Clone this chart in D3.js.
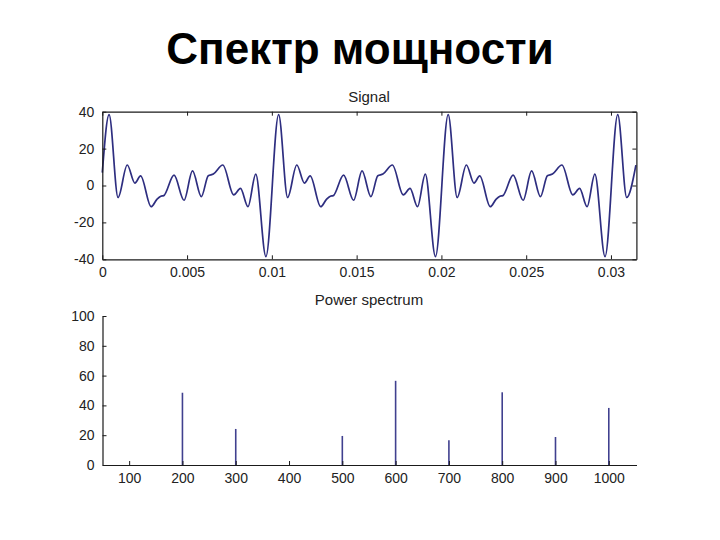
<!DOCTYPE html>
<html><head><meta charset="utf-8">
<script src="https://cdn.jsdelivr.net/npm/d3@7"></script>
<style>body{margin:0;background:#fff}svg{display:block}text{font-family:"Liberation Sans",Arial,sans-serif}</style>
</head><body><svg id="c" width="720" height="540"></svg>
<script>
// ---- data ----
const mainTitle = "Спектр мощности";
const signalTitle = "Signal";
const spectrumTitle = "Power spectrum";

const signalTime = [
  0, 0.0004, 0.00093, 0.00147, 0.00192, 0.00226, 0.00288, 0.00322, 0.00345, 0.00362, 0.00423,
  0.00482, 0.00532, 0.00584, 0.00625, 0.00655, 0.00711, 0.00775, 0.00815, 0.00859, 0.00905, 0.00965,
  0.0104, 0.01093, 0.01147, 0.01192, 0.01226, 0.01288, 0.01322, 0.01345, 0.01362, 0.01423,
  0.01482, 0.01532, 0.01584, 0.01625, 0.01655, 0.01711, 0.01775, 0.01815, 0.01859, 0.01905, 0.01965,
  0.0204, 0.02093, 0.02147, 0.02192, 0.02226, 0.02288, 0.02322, 0.02345, 0.02362, 0.02423,
  0.02482, 0.02532, 0.02584, 0.02625, 0.02655, 0.02711, 0.02775, 0.02815, 0.02859, 0.02905, 0.02965,
  0.0304, 0.03093, 0.03147
];
const signalValue = [
  7, 38.4, -6.5, 11.1, 1.3, 5.2, -11.5, -7.5, -5.8, -5.5, 5.6,
  -8.0, 7.9, -6.0, 5.3, 6.2, 11.1, -5.1, -1.6, -11.5, 6.2, -38.5,
  38.4, -6.5, 11.1, 1.3, 5.2, -11.5, -7.5, -5.8, -5.5, 5.6,
  -8.0, 7.9, -6.0, 5.3, 6.2, 11.1, -5.1, -1.6, -11.5, 6.2, -38.5,
  38.4, -6.5, 11.1, 1.3, 5.2, -11.5, -7.5, -5.8, -5.5, 5.6,
  -8.0, 7.9, -6.0, 5.3, 6.2, 11.1, -5.1, -1.6, -11.5, 6.2, -38.5,
  38.4, -6.5, 11.0
];
const signalXTicks = [0, 0.005, 0.01, 0.015, 0.02, 0.025, 0.03];
const signalXTickLabels = ["0", "0.005", "0.01", "0.015", "0.02", "0.025", "0.03"];
const signalYTicks = [-40, -20, 0, 20, 40];

const frequencies = [100, 200, 300, 400, 500, 600, 700, 800, 900, 1000];
const power = [0, 48.5, 24.2, 0, 19.5, 56.5, 16.6, 48.8, 18.8, 38.3];
const spectrumYTicks = [0, 20, 40, 60, 80, 100];

// ---- drawing ----
const svg = d3.select("#c");
const lineColor = "#2e2e80";
const axisColor = "#1a1a1a";
const tickFont = 14;
const plain = d => String(d);

svg.append("text").attr("x", 360).attr("y", 64).attr("text-anchor", "middle")
  .attr("font-size", 44).attr("font-weight", "bold").attr("fill", "#000").text(mainTitle);

// Signal panel
const x1 = d3.scaleLinear().domain([0, 0.0315]).range([102.3, 636.4]);
const y1 = d3.scaleLinear().domain([-40, 40]).range([259.3, 111.7]);
const g1 = svg.append("g");

g1.append("path")
  .datum(signalTime.map((t, i) => [t, signalValue[i]]))
  .attr("fill", "none").attr("stroke", lineColor).attr("stroke-width", 1.7)
  .attr("d", d3.line().x(d => x1(d[0])).y(d => y1(d[1])).curve(d3.curveMonotoneX));

function styleAxis(g) {
  g.selectAll(".domain").attr("stroke", axisColor).attr("stroke-width", 1.2);
  g.selectAll(".tick line").attr("stroke", axisColor);
  g.selectAll(".tick text").attr("fill", "#222").attr("font-size", tickFont)
    .attr("font-family", '"Liberation Sans",Arial,sans-serif');
}
const fmt1 = d => signalXTickLabels[signalXTicks.indexOf(d)];
g1.append("g").attr("transform", `translate(0,${y1(-40)})`)
  .call(d3.axisBottom(x1).tickValues(signalXTicks).tickFormat(fmt1).tickSizeInner(-4).tickSizeOuter(0).tickPadding(8))
  .call(styleAxis);
g1.append("g").attr("transform", `translate(0,${y1(40)})`)
  .call(d3.axisTop(x1).tickValues(signalXTicks).tickFormat("").tickSizeInner(-4).tickSizeOuter(0))
  .call(styleAxis);
g1.append("g").attr("transform", `translate(${x1(0)},0)`)
  .call(d3.axisLeft(y1).tickValues(signalYTicks).tickFormat(plain).tickSizeInner(-4).tickSizeOuter(0).tickPadding(8))
  .call(styleAxis);
g1.append("g").attr("transform", `translate(${x1(0.0315)},0)`)
  .call(d3.axisRight(y1).tickValues(signalYTicks).tickFormat("").tickSizeInner(-4).tickSizeOuter(0))
  .call(styleAxis);
g1.append("text").attr("x", 369).attr("y", 102).attr("text-anchor", "middle")
  .attr("font-size", 15).attr("fill", "#222").text(signalTitle);

// Spectrum panel
const x2 = d3.scaleLinear().domain([50, 1052]).range([102.5, 636.5]);
const y2 = d3.scaleLinear().domain([0, 100]).range([465, 316]);
const g2 = svg.append("g");
g2.selectAll("line.stem").data(frequencies).join("line").attr("class", "stem")
  .attr("x1", d => x2(d)).attr("x2", d => x2(d))
  .attr("y1", y2(0)).attr("y2", (d, i) => y2(power[i]))
  .attr("stroke", "#40408f").attr("stroke-width", 1.6);
g2.append("g").attr("transform", `translate(0,${y2(0)})`)
  .call(d3.axisBottom(x2).tickValues(frequencies).tickFormat(plain).tickSizeInner(-4).tickSizeOuter(0).tickPadding(8))
  .call(styleAxis);
g2.append("g").attr("transform", `translate(${x2(50)},0)`)
  .call(d3.axisLeft(y2).tickValues(spectrumYTicks).tickFormat(plain).tickSizeInner(-4).tickSizeOuter(0).tickPadding(8))
  .call(styleAxis);
g2.append("text").attr("x", 369).attr("y", 305).attr("text-anchor", "middle")
  .attr("font-size", 15).attr("fill", "#222").text(spectrumTitle);
</script></body></html>
